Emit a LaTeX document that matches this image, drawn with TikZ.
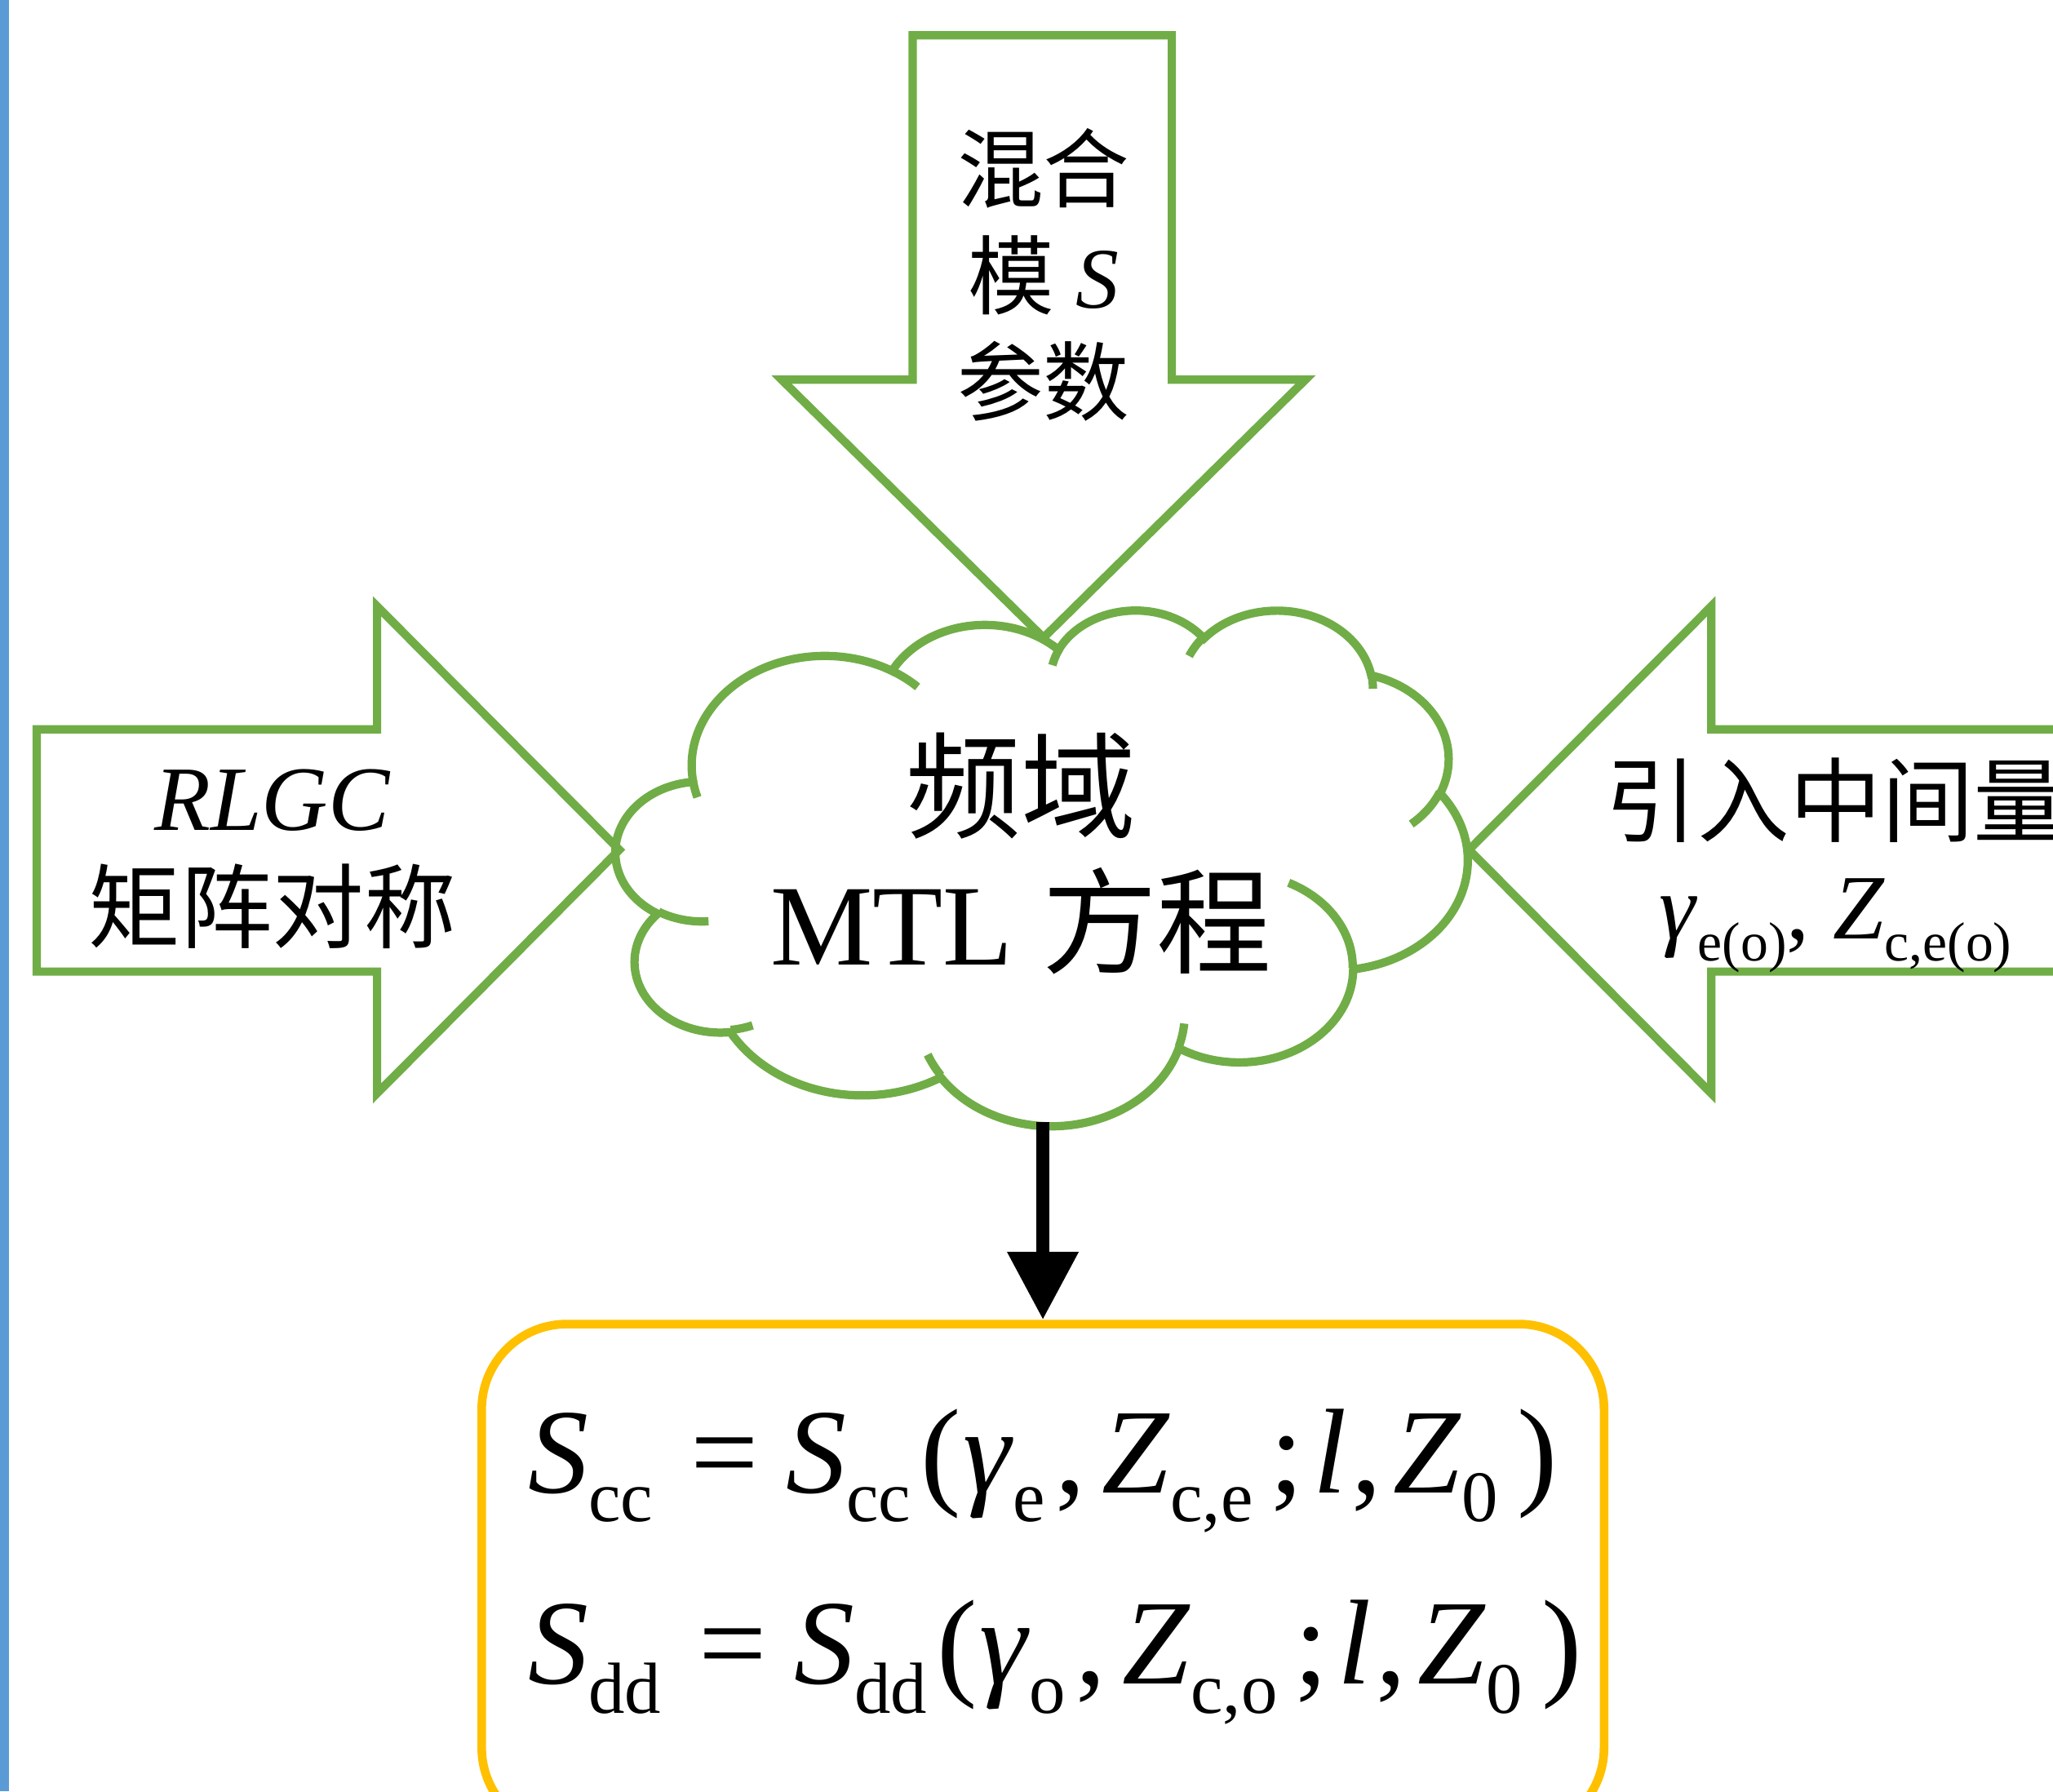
\documentclass[tikz,border=0pt]{standalone}
\usepackage{fontspec}
\usepackage{graphicx}
\setmainfont{Liberation Serif}
\newfontfamily\cjk{Noto Sans CJK SC}
\usetikzlibrary{arrows.meta,positioning}

\definecolor{arrowgreen}{HTML}{70AD47}
\definecolor{boxorange}{HTML}{FFC000}
\definecolor{sidebar}{HTML}{5B9BD5}

% lowered, shrunk index
\newcommand\dn[1]{\raisebox{-0.24em}{\scalebox{0.6}{#1}}}
% one lobe of the cloud: radii, start angle, sweep
\newcommand\puff[4]{arc[x radius=#1, y radius=#2, start angle={vp(#3,#1/#2)}, end angle={vp(#3+#4,#1/#2)}]}

\tikzset{
    declare function={vp(\a,\k)=\a+atan((\k-1)*sin(\a)*cos(\a)/(cos(\a)^2+\k*sin(\a)^2));},
    blockarrow/.style={draw=arrowgreen, line width=2.9pt},
    cloudline/.style={draw=arrowgreen, line width=2.9pt},
    flow/.style={line width=4.7pt, -{Triangle[length=0.83cm,width=0.83cm]}},
    resultbox/.style={draw=boxorange, line width=3pt, rounded corners=1.04cm,
        minimum width=13.72cm, minimum height=6.22cm},
    eqn/.style={font=\fontsize{42}{50}\selectfont, inner sep=0pt, anchor=base west},
}

\begin{document}
\begin{tikzpicture}[x=0.016cm, y=-0.016cm]
\useasboundingbox (0,0) rectangle (1568,1368);
\clip (0,0) rectangle (1568,1368);

\fill[sidebar] (0,0) rectangle (7,1368);

% cloud
\begin{scope}[shift={(470.5,465)}, x=0.024093cm, y=-0.014592cm]
\draw[cloudline, fill=white] (39.00,143.70)
    \puff{67.53}{91.90}{-190.4875}{123.7805}
    \puff{53.33}{72.67}{-144.1024}{89.9452}
    \puff{43.65}{59.45}{-145.8079}{99.7230}
    \puff{48.57}{65.95}{-130.9861}{117.2417}
    \puff{53.33}{72.73}{-78.7089}{109.0269}
    \puff{67.75}{92.20}{-46.2673}{130.2690}
    \puff{57.85}{78.67}{0.6250}{114.0333}
    \puff{67.52}{92.15}{22.4516}{115.1726}
    \puff{77.20}{105.43}{66.2426}{75.7110}
    \puff{43.60}{59.18}{-274.9421}{146.7356}
    \puff{43.45}{59.45}{-246.8285}{152.5189}
    -- cycle;
\draw[cloudline]
    (46.93,261.77) \puff{43.45}{59.45}{86.7420}{26.4295}
    (69.28,348.99) \puff{43.60}{59.18}{73.6105}{11.4475}
    (164.78,390.90) \puff{67.52}{92.15}{137.6242}{14.0811}
    (288.27,347.51) \puff{67.52}{92.15}{6.4533}{15.9984}
    (341.29,229.54) \puff{57.85}{78.67}{-70.2924}{70.9174}
    (417.98,153.54) \puff{53.33}{72.73}{30.3180}{27.7515}
    (383.24,54.26) \puff{48.57}{65.95}{-13.7443}{14.8589}
    (290.78,39.52) \puff{48.57}{65.95}{-149.1815}{18.1954}
    (221.41,47.20) \puff{43.65}{59.45}{-163.4943}{17.6864}
    (140.00,51.92) \puff{67.53}{91.90}{-66.7070}{12.3194}
    (41.27,157.89) \puff{67.53}{91.90}{157.6544}{11.8582};
\end{scope}

% block arrows
\draw[blockarrow] (697,27) -- (895,27) -- (895,290) -- (997,290) -- (797,487)
    -- (597,290) -- (697,290) -- cycle;
\draw[blockarrow] (28,557) -- (288,557) -- (288,463) -- (473,649) -- (288,835)
    -- (288,742) -- (28,742) -- cycle;
\draw[blockarrow] (1600,557) -- (1307,557) -- (1307,463) -- (1122,649) -- (1307,835)
    -- (1307,742) -- (1600,742);

\node[font=\fontsize{30}{37}\selectfont, align=center] (mixs) at (797,210)
    {{\cjk 混合}\\{\cjk 模} \textit{S}\\{\cjk 参数}};
\node[font=\fontsize{32}{38.7}\selectfont, align=center] (rlgc) at (208,656)
    {\textit{RLGC}\\{\cjk 矩阵对称}};
\node[font=\fontsize{32}{36}\selectfont, align=center] (gamz) at (1402,661)
    {{\cjk 引入中间量}\\\textit{γ}\dn{e(o)}, \textit{Z}\dn{c,e(o)}};
\node[font=\fontsize{40}{47}\selectfont, align=center] (mtl) at (780,652)
    {{\cjk 频域}\\MTL {\cjk 方程}};

% result
\coordinate (cloudbot) at (796.5,857);
\node[resultbox] (sbox) at (796.5,1205.5) {};
\draw[flow] (cloudbot) -- (sbox.north);

\node[eqn] (eqcc) at (403,1140) {\textit{S}\dn{cc}\hspace{0.31em}=\hspace{0.23em}\textit{S}\dn{cc}\hspace{0.08em}(\hspace{0.02em}\textit{γ}\dn{e}\hspace{0.08em},\hspace{0.14em}\textit{Z}\dn{c,e}\hspace{0.14em};\hspace{0.08em}\textit{l}\hspace{0.04em},\hspace{0.1em}\textit{Z}\dn{0}\hspace{0.16em})};
\node[eqn] (eqdd) at (403,1286) {\textit{S}\dn{dd}\hspace{0.31em}=\hspace{0.23em}\textit{S}\dn{dd}\hspace{0.08em}(\hspace{0.02em}\textit{γ}\dn{o}\hspace{0.08em},\hspace{0.14em}\textit{Z}\dn{c,o}\hspace{0.14em};\hspace{0.08em}\textit{l}\hspace{0.04em},\hspace{0.1em}\textit{Z}\dn{0}\hspace{0.16em})};
\end{tikzpicture}
\end{document}
